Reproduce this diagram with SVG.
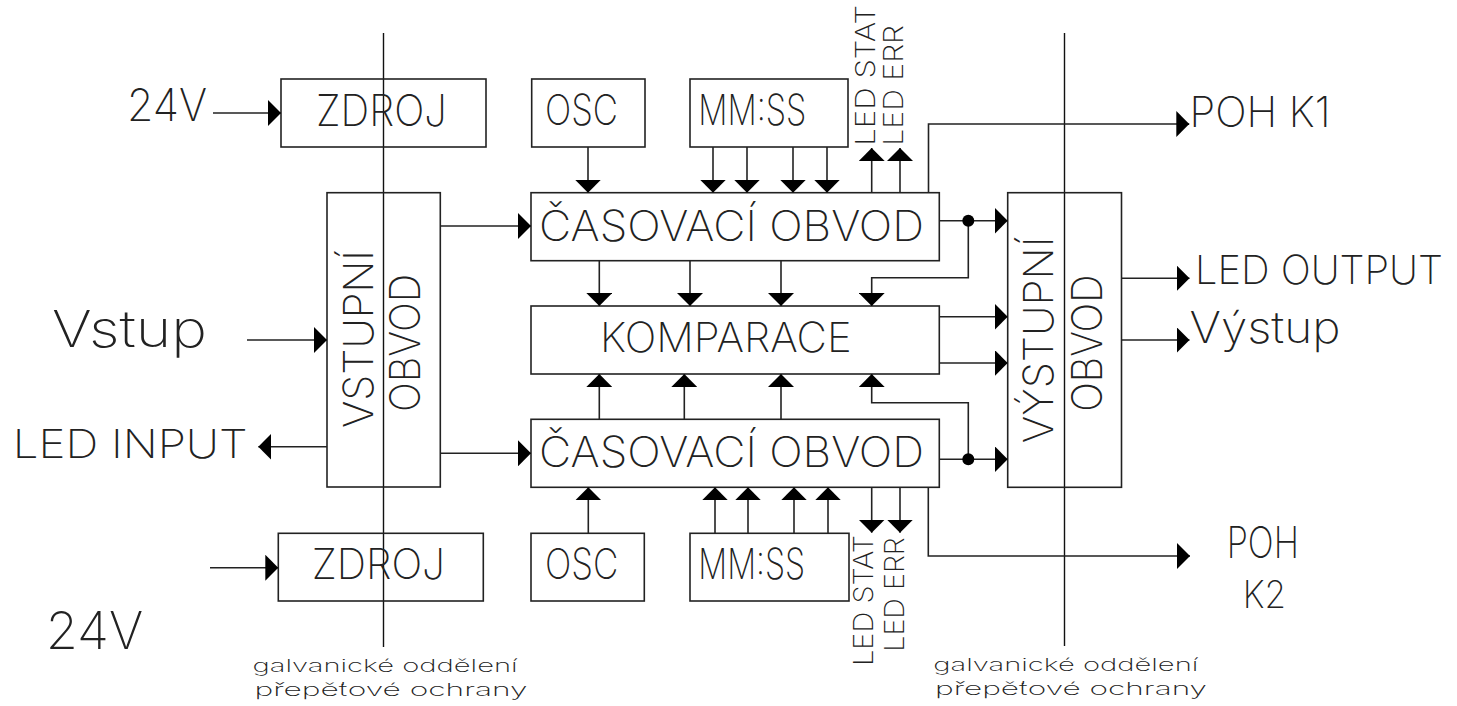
<svg xmlns="http://www.w3.org/2000/svg" width="1457" height="706" viewBox="0 0 1457 706">
<defs>
<marker id="ah" markerUnits="userSpaceOnUse" viewBox="0 0 13 26" refX="13" refY="13" markerWidth="13" markerHeight="26" orient="auto">
<path d="M0,0 L13,13 L0,26 Z" fill="#000"/>
</marker>
<style>
.box{fill:none;stroke:#222;stroke-width:1.6}
.iso{fill:none;stroke:#111;stroke-width:1.4}
.ar{fill:none;stroke:#222;stroke-width:1.6;marker-end:url(#ah)}
text{font-family:Inter,"DejaVu Sans","Liberation Sans",sans-serif;font-weight:150;fill:#222}
</style>
</defs>
<rect width="1457" height="706" fill="#fff"/>

<g id="isolation">
<line class="iso" x1="383.5" y1="33" x2="383.5" y2="647"/>
<line class="iso" x1="1064.5" y1="33" x2="1064.5" y2="646"/>
<text x="252.6" y="671.5" font-size="17" textLength="265" lengthAdjust="spacingAndGlyphs">galvanické oddělení</text>
<text x="254.5" y="696" font-size="17" textLength="273" lengthAdjust="spacingAndGlyphs">přepěťové ochrany</text>
<text x="933.3" y="670.5" font-size="17" textLength="265" lengthAdjust="spacingAndGlyphs">galvanické oddělení</text>
<text x="935" y="694.5" font-size="17" textLength="272" lengthAdjust="spacingAndGlyphs">přepěťové ochrany</text>
</g>

<g id="zdroj-top">
<rect class="box" x="281" y="79" width="205" height="68"/>
<text x="316" y="125.7" font-size="43.6" textLength="130.7" lengthAdjust="spacingAndGlyphs">ZDROJ</text>
</g>
<g id="osc-top">
<rect class="box" x="531.7" y="79" width="113.3" height="68"/>
<text x="545" y="125" font-size="42.6" textLength="73" lengthAdjust="spacingAndGlyphs">OSC</text>
</g>
<g id="mmss-top">
<rect class="box" x="690" y="79" width="158" height="68"/>
<text x="698.3" y="125" font-size="42.6" textLength="108" lengthAdjust="spacingAndGlyphs">MM:SS</text>
</g>
<g id="vstupni">
<rect class="box" x="327" y="192.7" width="113.3" height="294.3"/>
<text transform="translate(373,428) rotate(-90)" font-size="41.3" textLength="178" lengthAdjust="spacingAndGlyphs">VSTUPNÍ</text>
<text transform="translate(420,412) rotate(-90)" font-size="42.6" textLength="138" lengthAdjust="spacingAndGlyphs">OBVOD</text>
</g>
<g id="casovaci-top">
<rect class="box" x="531" y="192.7" width="408.3" height="68"/>
<text x="539" y="241" font-size="42.6" textLength="385" lengthAdjust="spacingAndGlyphs">ČASOVACÍ OBVOD</text>
</g>
<g id="komparace">
<rect class="box" x="531" y="306" width="408.3" height="68"/>
<text x="600" y="351.7" font-size="41.3" textLength="251.7" lengthAdjust="spacingAndGlyphs">KOMPARACE</text>
</g>
<g id="casovaci-bottom">
<rect class="box" x="531" y="419.3" width="408.3" height="68"/>
<text x="539" y="466.7" font-size="42.6" textLength="385" lengthAdjust="spacingAndGlyphs">ČASOVACÍ OBVOD</text>
</g>
<g id="vystupni">
<rect class="box" x="1007.7" y="192.7" width="113.8" height="294.6"/>
<text transform="translate(1053.3,443.3) rotate(-90)" font-size="41.3" textLength="206.7" lengthAdjust="spacingAndGlyphs">VÝSTUPNÍ</text>
<text transform="translate(1101.7,411.7) rotate(-90)" font-size="42.6" textLength="137" lengthAdjust="spacingAndGlyphs">OBVOD</text>
</g>
<g id="zdroj-bottom">
<rect class="box" x="278.3" y="533.3" width="205" height="67.7"/>
<text x="311.7" y="579.3" font-size="42.6" textLength="133.3" lengthAdjust="spacingAndGlyphs">ZDROJ</text>
</g>
<g id="osc-bottom">
<rect class="box" x="531" y="533.3" width="113.3" height="67.7"/>
<text x="545" y="579" font-size="42.6" textLength="73.3" lengthAdjust="spacingAndGlyphs">OSC</text>
</g>
<g id="mmss-bottom">
<rect class="box" x="690" y="533.3" width="159" height="67.7"/>
<text x="698.3" y="579" font-size="42.6" textLength="106.7" lengthAdjust="spacingAndGlyphs">MM:SS</text>
</g>

<g id="labels">
<text x="127" y="121" font-size="45" textLength="80" lengthAdjust="spacingAndGlyphs">24V</text>
<text x="52" y="346.7" font-size="50.5" textLength="155" lengthAdjust="spacingAndGlyphs">Vstup</text>
<text x="12.7" y="458" font-size="40" textLength="235" lengthAdjust="spacingAndGlyphs">LED INPUT</text>
<text x="45.7" y="649" font-size="51.3" textLength="97.6" lengthAdjust="spacingAndGlyphs">24V</text>
<text x="1189.5" y="126.7" font-size="42" textLength="141" lengthAdjust="spacingAndGlyphs">POH K1</text>
<text x="1195" y="284" font-size="40" textLength="248" lengthAdjust="spacingAndGlyphs">LED OUTPUT</text>
<text x="1189.5" y="343.3" font-size="43.5" textLength="151" lengthAdjust="spacingAndGlyphs">Výstup</text>
<text x="1226.7" y="558.3" font-size="43.5" textLength="72.3" lengthAdjust="spacingAndGlyphs">POH</text>
<text x="1242.7" y="607.7" font-size="38" textLength="43.3" lengthAdjust="spacingAndGlyphs">K2</text>
<text transform="translate(874.7,145.7) rotate(-90)" font-size="27" textLength="140.7" lengthAdjust="spacingAndGlyphs">LED STAT</text>
<text transform="translate(903.3,145.7) rotate(-90)" font-size="27" textLength="120.7" lengthAdjust="spacingAndGlyphs">LED ERR</text>
<text transform="translate(873.3,666) rotate(-90)" font-size="27" textLength="131" lengthAdjust="spacingAndGlyphs">LED STAT</text>
<text transform="translate(904,651.7) rotate(-90)" font-size="27" textLength="114.4" lengthAdjust="spacingAndGlyphs">LED ERR</text>
</g>

<g id="connectors">
<line class="ar" x1="213" y1="113" x2="281" y2="113"/>
<line class="ar" x1="210" y1="567.7" x2="278.3" y2="567.7"/>
<line class="ar" x1="247" y1="340" x2="327" y2="340"/>
<line class="ar" x1="327" y1="446.7" x2="258.3" y2="446.7"/>
<line class="ar" x1="440.3" y1="226" x2="531" y2="226"/>
<line class="ar" x1="440.3" y1="453.3" x2="531" y2="453.3"/>
<line class="ar" x1="588" y1="147" x2="588" y2="192.7"/>
<line class="ar" x1="713" y1="147" x2="713" y2="192.7"/>
<line class="ar" x1="747" y1="147" x2="747" y2="192.7"/>
<line class="ar" x1="793" y1="147" x2="793" y2="192.7"/>
<line class="ar" x1="827" y1="147" x2="827" y2="192.7"/>
<line class="ar" x1="871.7" y1="192.7" x2="871.7" y2="148"/>
<line class="ar" x1="900" y1="192.7" x2="900" y2="148"/>
<polyline class="ar" points="928.5,192.7 928.5,124 1189.3,124"/>
<line class="ar" x1="939.3" y1="220.7" x2="1007.7" y2="220.7"/>
<polyline class="ar" points="968.3,220.7 968.3,277.7 871.7,277.7 871.7,306"/>
<line class="ar" x1="599.3" y1="260.7" x2="599.3" y2="306"/>
<line class="ar" x1="690" y1="260.7" x2="690" y2="306"/>
<line class="ar" x1="781" y1="260.7" x2="781" y2="306"/>
<line class="ar" x1="939.3" y1="316.7" x2="1007.7" y2="316.7"/>
<line class="ar" x1="939.3" y1="363" x2="1007.7" y2="363"/>
<line class="ar" x1="599.3" y1="419.3" x2="599.3" y2="374"/>
<line class="ar" x1="684.3" y1="419.3" x2="684.3" y2="374"/>
<line class="ar" x1="781" y1="419.3" x2="781" y2="374"/>
<polyline class="ar" points="968.3,459.3 968.3,402.7 871.7,402.7 871.7,374"/>
<line class="ar" x1="939.3" y1="459.3" x2="1007.7" y2="459.3"/>
<line class="ar" x1="588.3" y1="533.3" x2="588.3" y2="487.3"/>
<line class="ar" x1="715" y1="533.3" x2="715" y2="487.3"/>
<line class="ar" x1="748" y1="533.3" x2="748" y2="487.3"/>
<line class="ar" x1="794" y1="533.3" x2="794" y2="487.3"/>
<line class="ar" x1="828" y1="533.3" x2="828" y2="487.3"/>
<line class="ar" x1="871.7" y1="487.3" x2="871.7" y2="532.7"/>
<line class="ar" x1="900" y1="487.3" x2="900" y2="532.7"/>
<polyline class="ar" points="928.3,487.3 928.3,556 1190,556"/>
<line class="ar" x1="1121.5" y1="278.3" x2="1189.5" y2="278.3"/>
<line class="ar" x1="1121.5" y1="340" x2="1189.5" y2="340"/>
<circle cx="968.3" cy="220.7" r="6" fill="#000"/>
<circle cx="968.3" cy="459.3" r="6" fill="#000"/>
</g>
</svg>
